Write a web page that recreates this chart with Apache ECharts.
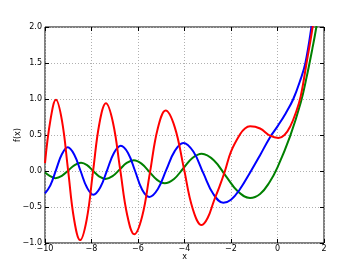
<!DOCTYPE html>
<html>
<head>
<meta charset="utf-8">
<script src="https://cdn.jsdelivr.net/npm/echarts@6/dist/echarts.min.js"></script>
<style>
html,body{margin:0;padding:0;background:#fff;}
#c{width:360px;height:270px;}
</style>
</head>
<body>
<div id="c"></div>
<script>
// x ticks and y ticks
const xTicks = [-10, -8, -6, -4, -2, 0, 2];
const yTicks = [-1.0, -0.5, 0.0, 0.5, 1.0, 1.5, 2.0];

// red curve
const redX = [-10, -9.77, -9.53, -9.27, -9.01, -8.75, -8.49, -8.21, -7.935, -7.66, -7.38,
  -7.075, -6.77, -6.465, -6.16, -5.82, -5.485, -5.15, -4.81, -4.42, -4.035, -3.65, -3.26,
  -3.0, -2.74, -2.5, -2.26, -2.0, -1.61, -1.4, -1.18, -0.75, -0.32, 0.04, 0.3, 0.55, 0.8,
  1.0, 1.25, 1.51, 1.75];
const redY = [0.11, 0.70, 0.99, 0.70, 0.02, -0.67, -0.96, -0.68, -0.01, 0.66, 0.94,
  0.67, 0.03, -0.61, -0.88, -0.63, -0.02, 0.59, 0.84, 0.61, 0.05, -0.52, -0.75,
  -0.65, -0.42, -0.22, 0.0, 0.27, 0.51, 0.59, 0.62, 0.59, 0.49, 0.46, 0.5, 0.62, 0.82,
  1.04, 1.5, 2.0, 2.6];

// blue curve
const blueX = [-10, -9.77, -9.52, -9.27, -9.02, -8.745, -8.47, -8.195, -7.92, -7.625, -7.33,
  -7.035, -6.74, -6.43, -6.125, -5.82, -5.51, -5.145, -4.78, -4.415, -4.05, -3.62, -3.19,
  -2.76, -2.33, -2.0, -1.61, -1.14, -0.75, -0.32, 0.0, 0.35, 0.68, 1.0, 1.2, 1.46, 1.6];
const blueY = [-0.31, -0.20, 0.02, 0.235, 0.33, 0.23, 0.0, -0.23, -0.33, -0.23, 0.01,
  0.25, 0.35, 0.25, 0.0, -0.26, -0.36, -0.25, 0.02, 0.28, 0.39, 0.27, -0.03,
  -0.32, -0.44, -0.40, -0.25, 0.0, 0.22, 0.47, 0.62, 0.8, 1.0, 1.28, 1.5, 2.0, 2.35];

// green curve
const greenX = [-10, -9.78, -9.55, -9.275, -9.0, -8.725, -8.45, -8.19, -7.925, -7.66, -7.4,
  -7.095, -6.79, -6.485, -6.18, -5.85, -5.515, -5.18, -4.85, -4.45, -4.055, -3.66, -3.26,
  -2.74, -2.22, -1.70, -1.18, -0.75, -0.35, 0.0, 0.54, 1.0, 1.25, 1.5, 1.67, 1.85];
const greenY = [-0.02, -0.07, -0.10, -0.068, 0.008, 0.083, 0.115, 0.082, 0.0, -0.077, -0.11,
  -0.072, 0.02, 0.112, 0.15, 0.103, -0.01, -0.123, -0.17, -0.11, 0.035, 0.18, 0.24,
  0.15, -0.07, -0.285, -0.375, -0.32, -0.16, 0.05, 0.48, 0.95, 1.3, 1.7, 2.0, 2.4];

function pairs(xs, ys) { return xs.map((x, i) => [x, ys[i]]); }
function minus(v) { return String(v).replace('-', '\u2212'); }

const chart = echarts.init(document.getElementById('c'), null, {renderer: 'canvas'});
const font = 'DejaVu Sans';
const tickStyle = {show: true, inside: true, length: 4, lineStyle: {color: '#000', width: 1}};
const splitStyle = {show: true, lineStyle: {color: '#b0b0b0', type: [1, 2], width: 1}};
const noLine = {show: false, onZero: false};

chart.setOption({
  animation: false,
  backgroundColor: '#fff',
  grid: {left: 45, right: 36, top: 27, bottom: 27, containLabel: false, outerBoundsMode: 'none',
    show: true, borderColor: '#000', borderWidth: 1, backgroundColor: 'transparent'},
  xAxis: [{
    type: 'value', position: 'bottom', min: xTicks[0], max: xTicks[xTicks.length - 1], interval: 2,
    axisLine: noLine, axisTick: tickStyle, splitLine: splitStyle,
    axisLabel: {fontFamily: font, fontSize: 8, color: '#000', margin: 2,
      formatter: v => minus(v)},
    name: 'x', nameLocation: 'middle', nameGap: 10, nameMoveOverlap: false,
    nameTextStyle: {fontFamily: font, fontSize: 8, color: '#000'}
  }, {
    type: 'value', position: 'top', min: xTicks[0], max: xTicks[xTicks.length - 1], interval: 2,
    axisLine: noLine, axisTick: tickStyle, splitLine: {show: false}, axisLabel: {show: false}
  }],
  yAxis: [{
    type: 'value', position: 'left', min: yTicks[0], max: yTicks[yTicks.length - 1], interval: 0.5,
    axisLine: noLine, axisTick: tickStyle, splitLine: splitStyle,
    axisLabel: {fontFamily: font, fontSize: 8, color: '#000', margin: 3,
      formatter: v => minus(v.toFixed(1))},
    name: 'f(x)', nameLocation: 'middle', nameGap: 23, nameRotate: 90, nameMoveOverlap: false,
    nameTextStyle: {fontFamily: font, fontSize: 8, color: '#000'}
  }, {
    type: 'value', position: 'right', min: yTicks[0], max: yTicks[yTicks.length - 1], interval: 0.5,
    axisLine: noLine, axisTick: tickStyle, splitLine: {show: false}, axisLabel: {show: false}
  }],
  series: [
    {type: 'line', data: pairs(greenX, greenY), smooth: 0.4, symbol: 'none', clip: true,
      lineStyle: {color: '#008000', width: 2}},
    {type: 'line', data: pairs(blueX, blueY), smooth: 0.4, symbol: 'none', clip: true,
      lineStyle: {color: '#0000ff', width: 2}},
    {type: 'line', data: pairs(redX, redY), smooth: 0.4, symbol: 'none', clip: true,
      lineStyle: {color: '#ff0000', width: 2}}
  ]
});
</script>
</body>
</html>
